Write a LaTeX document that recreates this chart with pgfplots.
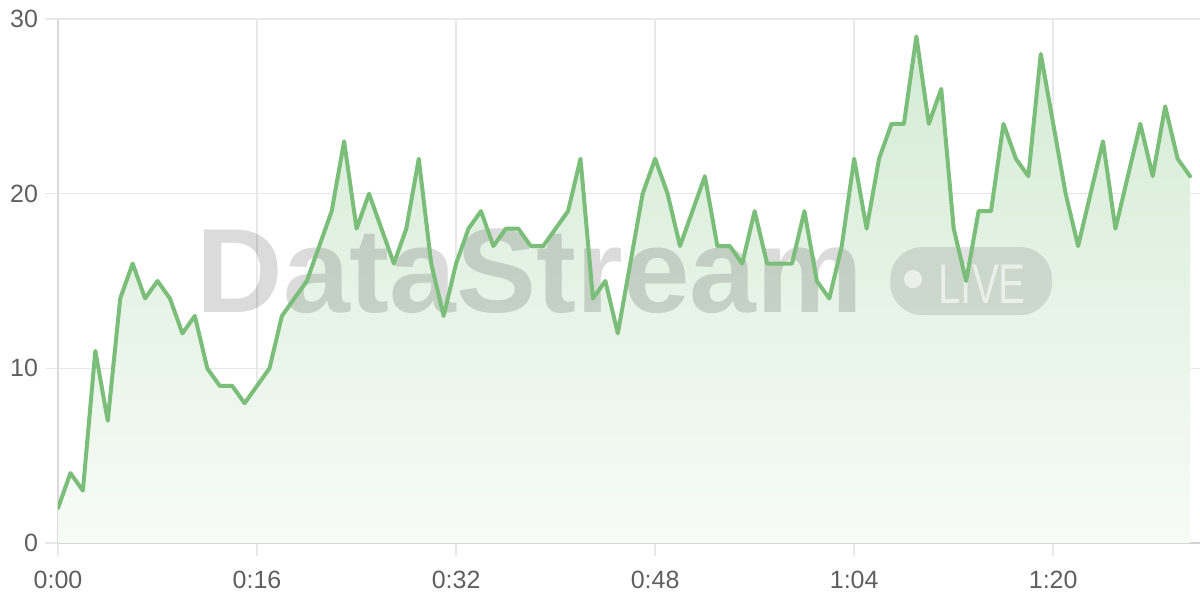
\documentclass[border=0pt]{standalone}
\usepackage{pgfplots}
\pgfplotsset{compat=1.18}
\usepackage{pgfplotstable}
\usepackage{fontspec}
\usepackage{graphicx}
\setmainfont{Liberation Sans}
\definecolor{linegreen}{RGB}{122,190,122}
\definecolor{filltop}{RGB}{212,235,212}
\definecolor{fillbot}{RGB}{247,251,247}
\definecolor{gridc}{RGB}{232,232,232}
\definecolor{yaxc}{RGB}{218,218,218}
\definecolor{axisc}{RGB}{208,208,208}
\definecolor{labelc}{RGB}{95,95,95}
\pgfplotstableread{
x y
0 2
1 4
2 3
3 11
4 7
5 14
6 16
7 14
8 15
9 14
10 12
11 13
12 10
13 9
14 9
15 8
16 9
17 10
18 13
19 14
20 15
21 17
22 19
23 23
24 18
25 20
26 18
27 16
28 18
29 22
30 16
31 13
32 16
33 18
34 19
35 17
36 18
37 18
38 17
39 17
40 18
41 19
42 22
43 14
44 15
45 12
46 16
47 20
48 22
49 20
50 17
51 19
52 21
53 17
54 17
55 16
56 19
57 16
58 16
59 16
60 19
61 15
62 14
63 17
64 22
65 18
66 22
67 24
68 24
69 29
70 24
71 26
72 18
73 15
74 19
75 19
76 24
77 22
78 21
79 28
80 24
81 20
82 17
83 20
84 23
85 18
86 21
87 24
88 21
89 25
90 22
91 21
}\datatable
\begin{document}
\begin{tikzpicture}
\begin{axis}[
  at={(0,0)}, anchor=south west,
  scale only axis, width=571pt, height=262pt,
  xmin=0, xmax=91.8, ymin=0, ymax=30,
  xtick={0,16,32,48,64,80},
  xticklabels={0:00,0:16,0:32,0:48,1:04,1:20},
  ytick={0,10,20,30},
  grid=major, grid style={draw=gridc, line width=0.75pt},
  axis x line*=bottom, axis y line*=left,
  x axis line style={-, draw=axisc, line width=1pt},
  y axis line style={-, draw=yaxc, line width=0.75pt},
  tick align=outside, major tick length=6.5pt,
  tick style={draw=gridc, line width=0.75pt},
  ticklabel style={font=\fontsize{12.5}{14}\selectfont, text=labelc},
  xticklabel style={yshift=-4pt},
  /pgf/number format/assume math mode=true,
]
\addplot[draw=none, top color=filltop, bottom color=fillbot] table[x=x,y=y]{\datatable} \closedcycle;
\node[anchor=base west, inner sep=0pt, text=black, text opacity=0.14,
  font=\fontsize{60}{60}\selectfont\bfseries] at (axis cs:11.09,13.17) {DataStream};
\fill[black, opacity=0.11, rounded corners=16pt] (axis cs:66.9,13.05) rectangle (axis cs:79.9,16.94);
\fill[white, opacity=0.6] (axis cs:68.73,15.11) circle[radius=4.5pt];
\node[anchor=base west, inner sep=0pt, text=white, text opacity=0.6,
  font=\fontsize{28}{28}\selectfont] at (axis cs:70.74,13.74) {\scalebox{0.72}[1]{LIVE}};
\addplot[linegreen, line width=2pt, line join=round, line cap=round] table[x=x,y=y]{\datatable};
\end{axis}
\pgfresetboundingbox
\path (-29pt,-28.5pt) rectangle (571pt,271.5pt);
\end{tikzpicture}
\end{document}
